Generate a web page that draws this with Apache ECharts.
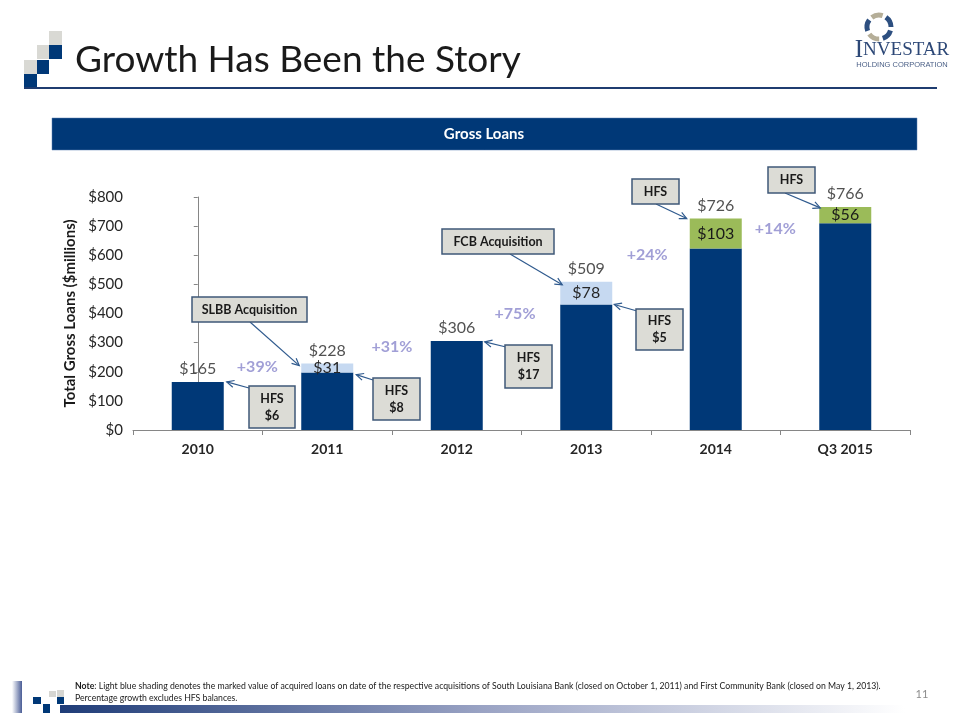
<!DOCTYPE html>
<html><head><meta charset="utf-8">
<script src="https://cdn.jsdelivr.net/npm/echarts@6/dist/echarts.min.js"></script>
<style>html,body{margin:0;padding:0;background:#fff}#c{width:960px;height:720px}</style>
</head><body><div id="c"></div>
<script>
// ---- data ----
const categories = ['2010', '2011', '2012', '2013', '2014', 'Q3 2015'];
const baseLoans = [165, 197, 306, 431, 623, 710];
const acquiredLoans = [null, 31, null, 78, null, null];
const hfsLoans = [null, null, null, null, 103, 56];
const totals = [165, 228, 306, 509, 726, 766];
const growthLabels = ['+39%', '+31%', '+75%', '+24%', '+14%'];
const yTickValues = [0, 100, 200, 300, 400, 500, 600, 700, 800];

// ---- layout (not data) ----
const growthPos = [[0.46, 216], [1.5, 285], [2.45, 398], [3.47, 601], [4.46, 690]];
const annotations = [
  {text: 'SLBB Acquisition', box: [192, 297, 115, 25], start: [250, 322], cat: 1, val: 228, side: -1, dx: -2, dy: 2},
  {text: 'HFS\n$6', box: [249, 386, 46, 42], start: [249, 388], cat: 0, val: 165, side: 1, dx: 3, dy: 0},
  {text: 'HFS\n$8', box: [373, 378, 47, 42], start: [373, 380], cat: 1, val: 197, side: 1, dx: 3, dy: 2},
  {text: 'HFS\n$17', box: [505, 345, 47, 43], start: [506, 347], cat: 2, val: 306, side: 1, dx: 2, dy: 1},
  {text: 'FCB Acquisition', box: [442, 229, 112, 25], start: [510, 254], cat: 3, val: 509, side: -1, dx: 2, dy: 3},
  {text: 'HFS\n$5', box: [636, 309, 47, 41], start: [637, 311], cat: 3, val: 431, side: 1, dx: 2, dy: 0},
  {text: 'HFS', box: [632, 179, 47, 25], start: [656, 204], cat: 4, val: 726, side: -1, dx: -3, dy: 0},
  {text: 'HFS', box: [768, 167, 47, 26], start: [785, 193], cat: 5, val: 766, side: -1, dx: 1, dy: 1}
];

const NAVY = '#003877';
const FONT = 'Lato, "Open Sans", sans-serif';
const BAR_W = 52;

const chart = echarts.init(document.getElementById('c'), null, {renderer: 'canvas'});

chart.setOption({
  animation: false,
  backgroundColor: '#ffffff',
  textStyle: {fontFamily: FONT},
  grid: {left: 133, right: 50, top: 197, bottom: 290, containLabel: false},
  xAxis: [{
    type: 'category', data: categories,
    axisLine: {lineStyle: {color: '#868686', width: 1}},
    axisTick: {show: true, length: 5, lineStyle: {color: '#868686'}},
    axisLabel: {color: '#262626', fontSize: 14, fontWeight: 'bold', margin: 12, fontFamily: FONT}
  }, {
    type: 'value', min: -0.5, max: 5.5, show: false
  }],
  yAxis: {
    type: 'value', min: 0, max: 800, interval: 100,
    name: 'Total Gross Loans ($millions)', nameLocation: 'middle', nameGap: 53,
    nameTextStyle: {fontSize: 15, fontWeight: 'bold', color: '#1a1a1a', fontFamily: FONT},
    axisLine: {show: true, lineStyle: {color: '#868686'}},
    axisTick: {show: true, length: 4, lineStyle: {color: '#868686'}},
    splitLine: {show: false},
    axisLabel: {color: '#262626', fontSize: 15, margin: 10, fontFamily: FONT,
      formatter: v => yTickValues.indexOf(v) >= 0 ? '$' + v : ''}
  },
  series: [
    {type: 'bar', stack: 'loans', data: baseLoans, barWidth: BAR_W,
      itemStyle: {color: NAVY}},
    {type: 'bar', stack: 'loans', data: acquiredLoans, barWidth: BAR_W,
      itemStyle: {color: '#c6d9f1'},
      label: {show: true, position: 'inside', formatter: p => '$' + p.value,
        color: '#262626', fontSize: 16, fontFamily: FONT}},
    {type: 'bar', stack: 'loans', data: hfsLoans, barWidth: BAR_W,
      itemStyle: {color: '#9bbb59'},
      label: {show: true, position: 'inside', formatter: p => '$' + p.value,
        color: '#1a1a1a', fontSize: 16, fontFamily: FONT}},
    {type: 'scatter', data: totals, symbolSize: 0, silent: true,
      label: {show: true, position: 'top', distance: 5, formatter: p => '$' + p.value,
        color: '#262626', fontSize: 16, fontFamily: FONT}},
    {type: 'scatter', xAxisIndex: 1, symbolSize: 0, silent: true,
      data: growthPos.map((p, i) => ({value: p, name: growthLabels[i]})),
      label: {show: true, position: 'inside', formatter: p => p.name,
        color: '#8a87cc', fontSize: 16, fontWeight: 'bold', fontFamily: FONT}}
  ]
});

function arrow(x1, y1, x2, y2, color) {
  const a = Math.atan2(y2 - y1, x2 - x1), L = 8, s = Math.PI / 7;
  return [
    {type: 'line', z: 100, shape: {x1: x1, y1: y1, x2: x2, y2: y2}, style: {stroke: color, lineWidth: 1.2}},
    {type: 'polyline', z: 100, shape: {points: [
      [x2 - L * Math.cos(a - s), y2 - L * Math.sin(a - s)], [x2, y2],
      [x2 - L * Math.cos(a + s), y2 - L * Math.sin(a + s)]]},
      style: {stroke: color, lineWidth: 1.2, fill: null}}
  ];
}

const g = [];
// title squares top-left
const sq = (x, y, w, h, c) => ({type: 'rect', shape: {x: x, y: y, width: w, height: h}, style: {fill: c}});
g.push(sq(49, 31, 13, 14, '#d9d9d4'));
g.push(sq(37, 45, 12, 14, '#d9d9d4'), sq(49, 45, 13, 14, NAVY));
g.push(sq(24, 60, 13, 14, '#d9d9d4'), sq(37, 60, 12, 14, NAVY));
g.push(sq(24, 74, 13, 14, NAVY));
g.push({type: 'line', shape: {x1: 24, y1: 88, x2: 937, y2: 88}, style: {stroke: '#1f3c70', lineWidth: 2}});
g.push({type: 'text', x: 75, y: 60, style: {text: 'Growth Has Been the Story', font: '37px ' + FONT,
  fill: '#1a1a1a', verticalAlign: 'middle'}});
// logo
for (let k = 0; k < 5; k++) {
  const st = k * 2 * Math.PI / 5 + 0.3;
  g.push({type: 'arc', shape: {cx: 879, cy: 27, r: 12, startAngle: st, endAngle: st + 0.95},
    style: {stroke: k % 2 ? '#b5ae98' : '#2d4f80', lineWidth: 5, fill: null}});
}
g.push({type: 'text', x: 902, y: 50, style: {
  text: '{a|I}{b|NVESTAR}', align: 'center', verticalAlign: 'middle',
  rich: {a: {font: '25px "Liberation Serif", serif', fill: '#2d4877'}, b: {font: '19px "Liberation Serif", serif', fill: '#2d4877'}}}});
g.push({type: 'text', x: 902, y: 65, style: {text: 'HOLDING CORPORATION', font: '7.5px "Liberation Sans", sans-serif',
  fill: '#4a5f86', align: 'center', verticalAlign: 'middle'}});
// header bar
g.push({type: 'rect', shape: {x: 52, y: 118, width: 865, height: 32}, style: {fill: NAVY, stroke: '#5a7fb0', lineWidth: 0.5}});
g.push({type: 'text', x: 484, y: 134, style: {text: 'Gross Loans', font: 'bold 15px ' + FONT, fill: '#ffffff',
  align: 'center', verticalAlign: 'middle'}});
// footer
g.push({type: 'text', x: 75, y: 686, style: {
  text: '{b|Note}{n|: Light blue shading denotes the marked value of acquired loans on date of the respective acquisitions of South Louisiana Bank (closed on October 1, 2011) and First Community Bank (closed on May 1, 2013).}',
  verticalAlign: 'middle', rich: {b: {font: 'bold 8.7px ' + FONT, fill: '#1a1a1a'}, n: {font: '8.7px ' + FONT, fill: '#1a1a1a'}}}});
g.push({type: 'text', x: 75, y: 698, style: {text: 'Percentage growth excludes HFS balances.', font: '8.7px ' + FONT,
  fill: '#1a1a1a', verticalAlign: 'middle'}});
g.push({type: 'text', x: 922, y: 694, style: {text: '11', font: '11px ' + FONT, fill: '#8c8c8c', align: 'center', verticalAlign: 'middle'}});
g.push({type: 'rect', shape: {x: 60, y: 705, width: 845, height: 8}, style: {
  fill: new echarts.graphic.LinearGradient(0, 0, 1, 0, [{offset: 0, color: '#1f3c78'}, {offset: 0.5, color: '#9aa3c4'}, {offset: 1, color: '#ffffff'}])}});
g.push({type: 'rect', shape: {x: 12, y: 681, width: 10, height: 32}, style: {
  fill: new echarts.graphic.LinearGradient(0, 0, 1, 0, [{offset: 0, color: '#ffffff'}, {offset: 1, color: '#4a5d96'}])}});
g.push(sq(33, 697, 8, 7, NAVY), sq(49, 691, 7, 6, '#d6d6d2'), sq(57, 690, 7, 7, '#d6d6d2'),
  sq(57, 697, 7, 7, NAVY), sq(43, 704, 7, 9, NAVY));

// callouts
annotations.forEach(a => {
  const [bx, by, bw, bh] = a.box;
  g.push({type: 'rect', z: 101, shape: {x: bx, y: by, width: bw, height: bh},
    style: {fill: '#dcdcd6', stroke: '#3f5878', lineWidth: 1.5}});
  g.push({type: 'text', z: 102, x: bx + bw / 2, y: by + bh / 2, style: {text: a.text,
    font: 'bold 12.5px ' + FONT, fill: '#1a1a1a', align: 'center', verticalAlign: 'middle', lineHeight: 17}});
  const p = chart.convertToPixel({xAxisIndex: 0, yAxisIndex: 0}, [a.cat, a.val]);
  const tx = p[0] + a.side * BAR_W / 2 + a.dx, ty = p[1] + a.dy;
  arrow(a.start[0], a.start[1], tx, ty, '#2f5a8e').forEach(e => g.push(e));
});

chart.setOption({graphic: g});
</script></body></html>
